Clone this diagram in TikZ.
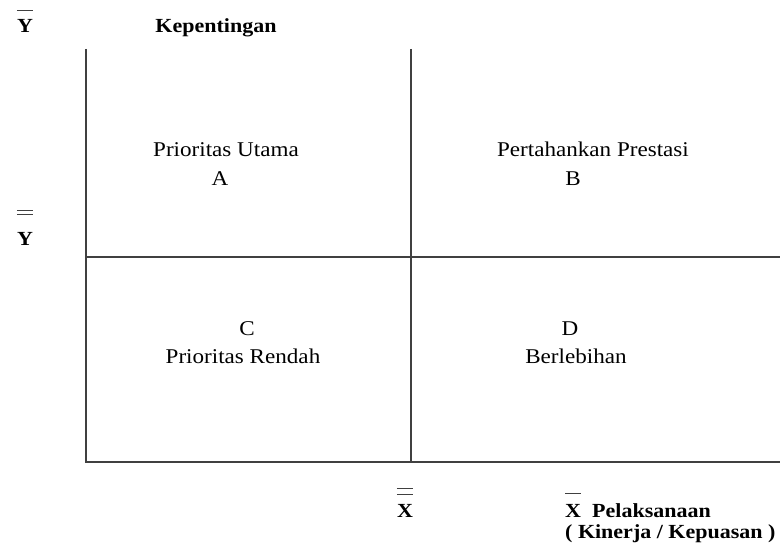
\documentclass[tikz,border=0pt]{standalone}
\usepackage{fontspec}
\setmainfont{Liberation Serif}[FakeStretch=1.1]
\begin{document}
\begin{tikzpicture}[x=1pt, y=-1pt, line cap=butt,
                    axis/.style={line width=1.4pt, draw=black!75},
                    bar/.style={line width=1.2pt, draw=black!75},
                    lbl/.style={anchor=base, inner sep=0pt,
                                font=\fontsize{21}{25}\selectfont},
                    head/.style={lbl, font=\fontsize{20}{24}\selectfont\bfseries}]
  \useasboundingbox (0,0) rectangle (780,551);

  % Quadrant frame (corners and midpoints)
  \coordinate (tl) at (86, 49);
  \coordinate (o)  at (86, 462);
  \coordinate (br) at (780, 462);
  \coordinate (tm) at (411, 49);
  \coordinate (bm) at (411, 462);
  \coordinate (ml) at (86, 257);
  \coordinate (mr) at (780, 257);

  \draw[axis] (tl) -- (o) -- (br);   % axes
  \draw[axis] (tm) -- (bm);          % x mean
  \draw[axis] (ml) -- (mr);          % y mean

  % Quadrant labels
  \node[lbl] (qa1) at (226, 156) {Prioritas Utama};
  \node[lbl] (qa2) at (220, 185) {A};
  \node[lbl] (qb1) at (593, 156) {Pertahankan Prestasi};
  \node[lbl] (qb2) at (573, 185) {B};
  \node[lbl] (qc2) at (247, 335) {C};
  \node[lbl] (qc1) at (243, 363) {Prioritas Rendah};
  \node[lbl] (qd2) at (570, 335) {D};
  \node[lbl] (qd1) at (576, 363) {Berlebihan};

  % Axis titles
  \node[head] (ytop) at (25, 33)  {Y};
  \node[head] (kep)  at (216, 33) {Kepentingan};
  \node[head] (ymid) at (25, 245) {Y};
  \node[head] (xmid) at (405, 517) {X};
  \node[head, anchor=base west] (xend) at (565, 517) {X};
  \node[head, anchor=base west] (pel)  at (592, 517) {Pelaksanaan};
  \node[head, anchor=base west] (kin)  at (565, 538) {( Kinerja / Kepuasan )};

  % Bars over the mean symbols
  \draw[bar] ([yshift=9pt]ytop.north west) -- ([yshift=9pt]ytop.north east);
  \draw[bar] ([yshift=10pt]xend.north west) -- ([yshift=10pt]xend.north east);
  \foreach \s in {17, 21}
    \draw[bar] ([yshift=\s pt]ymid.north west) -- ([yshift=\s pt]ymid.north east);
  \foreach \s in {9, 15}
    \draw[bar] ([yshift=\s pt]xmid.north west) -- ([yshift=\s pt]xmid.north east);
\end{tikzpicture}
\end{document}
